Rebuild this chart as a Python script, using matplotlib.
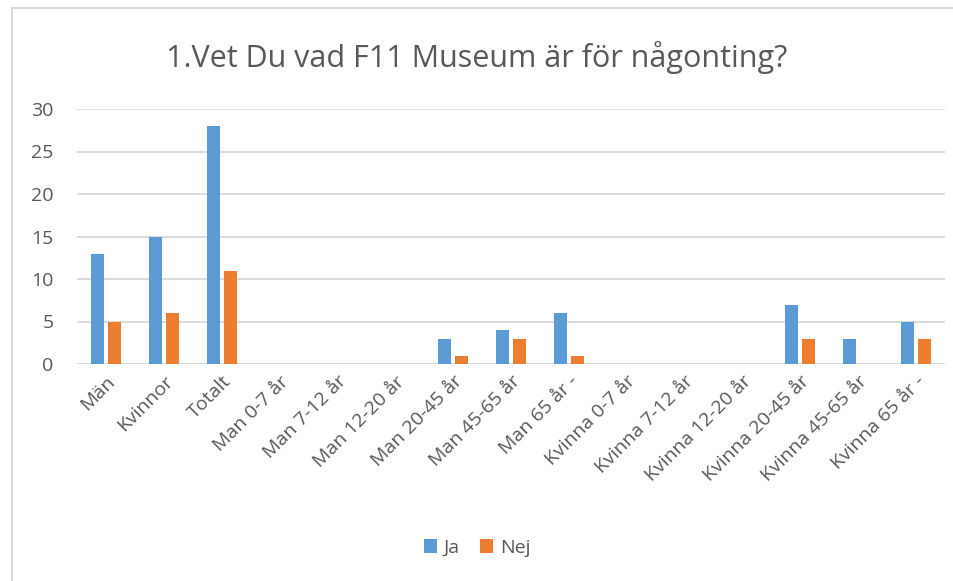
import numpy as np
import matplotlib.pyplot as plt

categories = ['Män', 'Kvinnor', 'Totalt', 'Man 0-7 år', 'Man 7-12 år',
              'Man 12-20 år', 'Man 20-45 år', 'Man 45-65 år', 'Man 65 år -',
              'Kvinna 0-7 år', 'Kvinna 7-12 år', 'Kvinna 12-20 år',
              'Kvinna 20-45 år', 'Kvinna 45-65 år', 'Kvinna 65 år -']
ja = [13, 15, 28, 0, 0, 0, 3, 4, 6, 0, 0, 0, 7, 3, 5]
nej = [5, 6, 11, 0, 0, 0, 1, 3, 1, 0, 0, 0, 3, 0, 3]
yticks = [0, 5, 10, 15, 20, 25, 30]

plt.rcParams['font.family'] = ['Open Sans', 'DejaVu Sans']
text_col = '#595959'

fig = plt.figure(figsize=(9.54, 5.81), dpi=100)
ax = fig.add_axes([77 / 954, 1 - 364 / 581, (945 - 77) / 954, (364 - 109) / 581])

x = np.arange(len(categories))
w = 0.225
ax.bar(x - 0.145, ja, w, color='#5b9bd5', label='Ja', zorder=3)
ax.bar(x + 0.145, nej, w, color='#ed7d31', label='Nej', zorder=3)

ax.set_xlim(-0.5, len(categories) - 0.5)
ax.set_ylim(0, 30)
ax.set_yticks(yticks)
ax.yaxis.grid(True, color='#d9d9d9', linewidth=1.3, zorder=0)
for s in ax.spines.values():
    s.set_visible(False)
ax.tick_params(axis='both', length=0, colors=text_col, labelsize=14)
ax.tick_params(axis='y', pad=17)
ax.set_xticks(x)
ax.set_xticklabels(categories, rotation=45, ha='right', rotation_mode='anchor')
ax.tick_params(axis='x', pad=6)

fig.text(0.5, 1 - 58 / 581, '1.Vet Du vad F11 Museum är för någonting?',
         ha='center', va='center', fontsize=22, color=text_col)

fig.legend(loc='center', bbox_to_anchor=(0.5, 1 - 548 / 581), ncol=2,
           frameon=False, fontsize=14, handlelength=0.7, handleheight=0.7,
           columnspacing=1.0, handletextpad=0.35, labelcolor=text_col)

# outer frame of the chart area (right side runs off the image)
fig.patches.append(plt.Rectangle((12 / 954, -0.1), 1.1, 1 - 8 / 581 + 0.1,
                                 transform=fig.transFigure, fill=False,
                                 edgecolor='#d9d9d9', linewidth=1.5))

fig.savefig('out.png', dpi=100)
